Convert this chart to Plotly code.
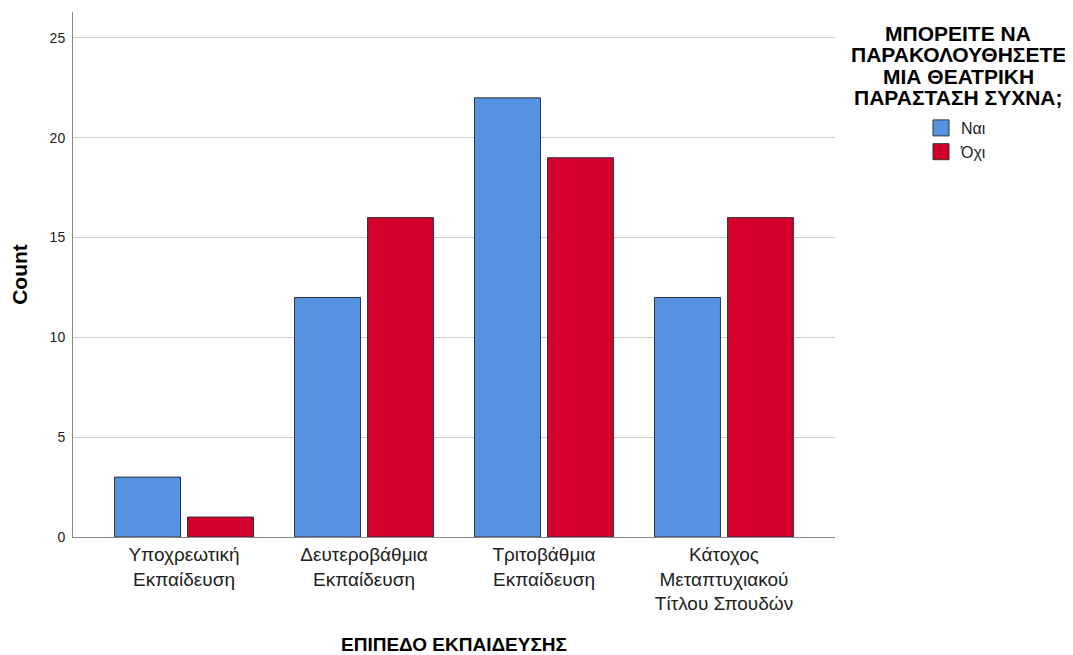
import plotly.graph_objects as go

categories = ["Υποχρεωτική<br>Εκπαίδευση", "Δευτεροβάθμια<br>Εκπαίδευση",
              "Τριτοβάθμια<br>Εκπαίδευση", "Κάτοχος<br>Μεταπτυχιακού<br>Τίτλου Σπουδών"]
nai = [3, 12, 22, 12]
oxi = [1, 16, 19, 16]
series_names = ["Ναι", "Όχι"]
colors = ["#5592E2", "#D3002E"]
y_ticks = [0, 5, 10, 15, 20, 25]
legend_title_lines = ["ΜΠΟΡΕΙΤΕ ΝΑ", "ΠΑΡΑΚΟΛΟΥΘΗΣΕΤΕ", "ΜΙΑ ΘΕΑΤΡΙΚΗ", "ΠΑΡΑΣΤΑΣΗ ΣΥΧΝΑ;"]

FONT = "Liberation Sans, Arial, sans-serif"
OFF = 8  # page body margin
# plot area in screenshot pixels
L, R, T, B = 73, 835, 12, 537


def px_x(p):
    return (p - L) / (R - L)


def px_y(p):
    return (B - p) / (B - T)


fig = go.Figure()
for name, vals, col in zip(series_names, [nai, oxi], colors):
    fig.add_trace(go.Bar(
        x=list(range(len(categories))), y=vals, name=name, showlegend=False,
        marker=dict(color=col, line=dict(color="#333333", width=1)),
    ))
# legend entries with larger square swatches
for i, (name, col) in enumerate(zip(series_names, colors)):
    fig.add_trace(go.Scatter(
        x=[None], y=[None], name=name, mode="markers", legendgroup=str(i),
        marker=dict(symbol="square", size=16, color=col, line=dict(color="#333333", width=1)),
    ))

annotations = []
for i, line in enumerate(legend_title_lines):
    annotations.append(dict(
        text="<b>" + line + "</b>", xref="paper", yref="paper",
        x=px_x(958), y=px_y(33 + i * 21.6), xanchor="center", yanchor="middle",
        showarrow=False, font=dict(size=21, color="#000000", family=FONT),
    ))

fig.update_layout(
    width=1073, height=655,
    margin=dict(l=L - OFF, r=1073 - (R - OFF), t=T - OFF, b=655 - (B - OFF)),
    plot_bgcolor="white", paper_bgcolor="white",
    barmode="group", bargap=0.189, bargroupgap=0.096,
    font=dict(family=FONT, color="#222222"),
    xaxis=dict(
        tickmode="array", tickvals=list(range(len(categories))), ticktext=categories,
        range=[-0.617, 3.617], showline=True, linecolor="#888888", linewidth=1,
        ticks="", tickfont=dict(size=19, color="#222222"),
        title=dict(text="<b>ΕΠΙΠΕΔΟ ΕΚΠΑΙΔΕΥΣΗΣ</b>", font=dict(size=19, color="#000000"), standoff=24),
        showgrid=False, zeroline=False,
    ),
    yaxis=dict(
        range=[0, 26.3], tickvals=y_ticks, showline=True, linecolor="#888888", linewidth=1,
        showgrid=True, gridcolor="#CCCCCC", gridwidth=1, zeroline=False,
        ticks="", tickfont=dict(size=14, color="#222222"), ticklabelstandoff=4,
        title=dict(text="<b>Count</b>", font=dict(size=21, color="#000000"), standoff=18),
    ),
    legend=dict(
        x=px_x(921), y=px_y(111), xanchor="left", yanchor="top",
        font=dict(size=16, color="#222222"), traceorder="grouped",
        itemwidth=30, tracegroupgap=0, bgcolor="rgba(0,0,0,0)",
    ),
    annotations=annotations,
)

fig.write_html("out.html")
